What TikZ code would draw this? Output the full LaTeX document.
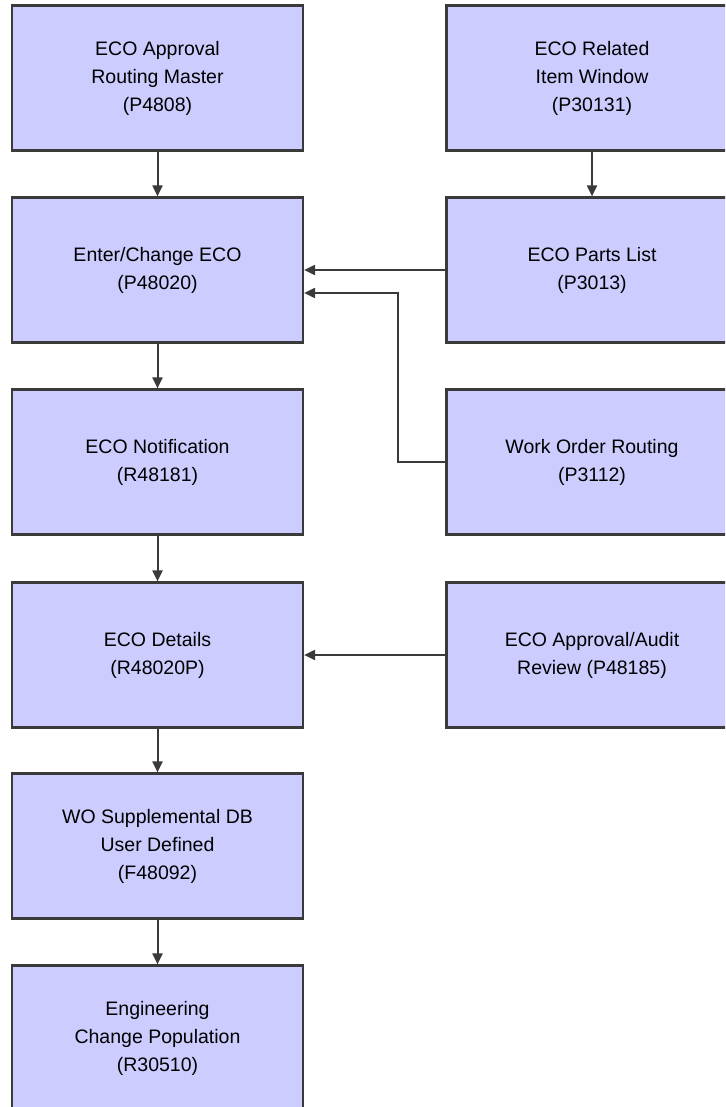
\documentclass[tikz,border=0pt]{standalone}
\usepackage{fontspec}
\setmainfont{Liberation Sans}
\usetikzlibrary{arrows.meta}
\definecolor{boxfill}{HTML}{CCCCFF}
\definecolor{linecol}{HTML}{3A3A3A}
\begin{document}
\begin{tikzpicture}[x=1pt,y=-1pt,
  box/.style={draw=linecol, line width=2.2pt, fill=boxfill, minimum width=291pt, minimum height=145pt, align=center, inner sep=0pt, font=\fontsize{19.5}{28}\selectfont},
  arr/.style={draw=linecol, line width=2pt, -{Triangle[length=11pt,width=10pt]}}]
\clip (0,0) rectangle (725,1107);
\node[box] (l1) at (157.5,78) {ECO Approval\\Routing Master\\(P4808)};
\node[box] (l2) at (157.5,270) {Enter/Change ECO\\(P48020)};
\node[box] (l3) at (157.5,462) {ECO Notification\\(R48181)};
\node[box] (l4) at (157.5,655) {ECO Details\\(R48020P)};
\node[box] (l5) at (157.5,846) {WO Supplemental DB\\User Defined\\(F48092)};
\node[box] (l6) at (157.5,1038) {Engineering\\Change Population\\(R30510)};
\node[box] (r1) at (592,78) {ECO Related\\Item Window\\(P30131)};
\node[box] (r2) at (592,270) {ECO Parts List\\(P3013)};
\node[box] (r3) at (592,462) {Work Order Routing\\(P3112)};
\node[box] (r4) at (592,655) {ECO Approval/Audit\\Review (P48185)};
\coordinate (j) at (398,293);
\draw[arr] (l1) -- (l2);
\draw[arr] (l2) -- (l3);
\draw[arr] (l3) -- (l4);
\draw[arr] (l4) -- (l5);
\draw[arr] (l5) -- (l6);
\draw[arr] (r1) -- (r2);
\draw[arr] (r2) -- (l2);
\draw[arr] (r3.west) -| (j) -- (l2.east |- j);
\draw[arr] (r4) -- (l4);
\end{tikzpicture}
\end{document}
